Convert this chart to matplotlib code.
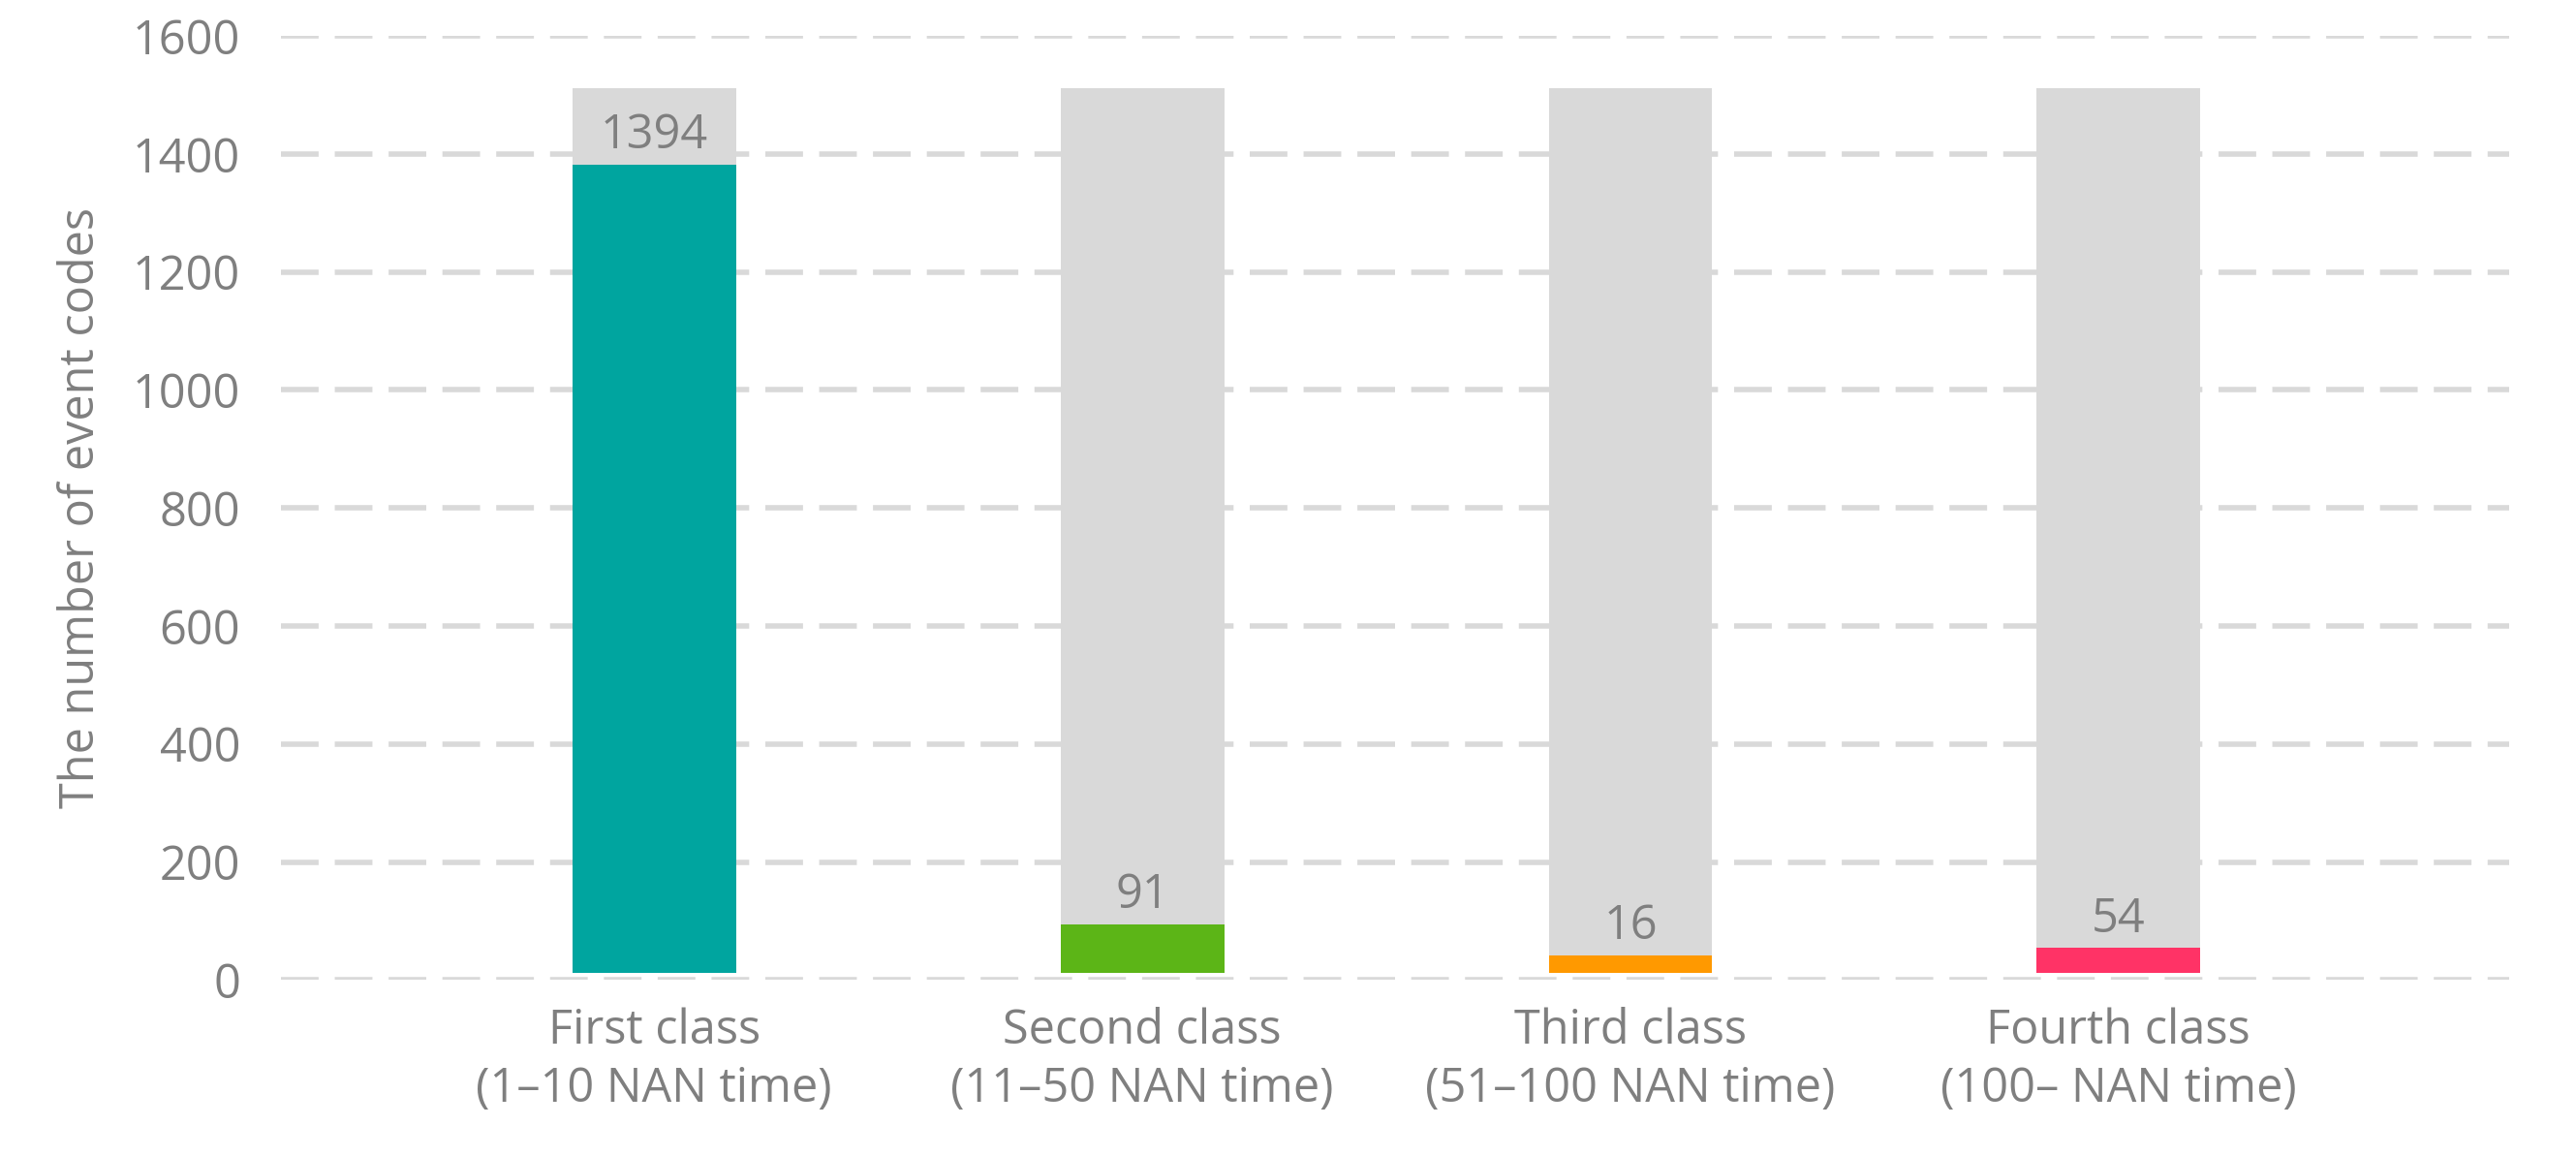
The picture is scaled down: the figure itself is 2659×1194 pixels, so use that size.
import matplotlib
matplotlib.use('Agg')
import matplotlib.pyplot as plt

categories = ['First class\n(1\u201310 NAN time)', 'Second class\n(11\u201350 NAN time)',
              'Third class\n(51\u2013100 NAN time)', 'Fourth class\n(100\u2013 NAN time)']
labels = [1394, 91, 16, 54]
bar_heights = [1370, 82, 30, 42]   # drawn height above the bar base
bg_height = 1500
base = 12
colors = ['#00A59F', '#5CB517', '#FF9900', '#FF3366']
grey = '#7F7F7F'

plt.rcParams['font.family'] = ['Open Sans', 'DejaVu Sans']
fig = plt.figure(figsize=(26.59, 11.94), dpi=100)
ax = fig.add_axes([0.109, 0.153, 0.865, 0.816])

x = range(len(categories))
ax.bar(x, [bg_height] * 4, bottom=base, width=0.335, color='#D9D9D9', zorder=2)
ax.bar(x, bar_heights, bottom=base, width=0.335, color=colors, zorder=3)
for i, (h, lab) in enumerate(zip(bar_heights, labels)):
    ax.text(i, base + h + 8, str(lab), ha='center', va='bottom', fontsize=35, color=grey, zorder=4)

ax.set_xlim(-0.765, 3.8)
ax.set_ylim(0, 1600)
ax.set_yticks(range(0, 1601, 200))
ax.set_xticks(list(x))
ax.set_xticklabels(categories, fontsize=35, color=grey, linespacing=1.3)
ax.tick_params(axis='y', labelsize=35, colors=grey, length=0, pad=30)
ax.tick_params(axis='x', length=0, pad=20)
ax.yaxis.grid(True, color='#D9D9D9', linestyle=(0, (7, 3)), linewidth=4, zorder=0)
for s in ax.spines.values():
    s.set_visible(False)
ax.set_ylabel('The number of event codes', fontsize=35, color=grey, labelpad=20)

fig.savefig('out.png', dpi=100)
